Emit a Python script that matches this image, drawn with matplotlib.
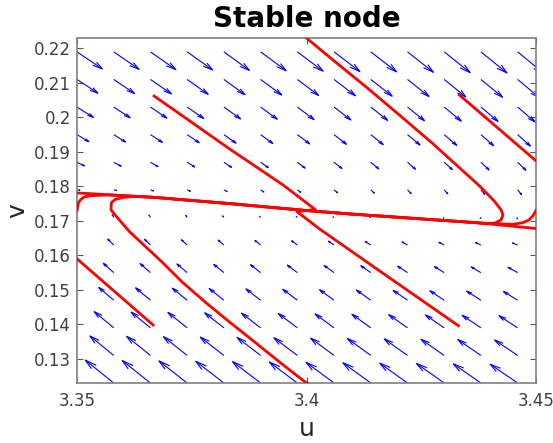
import numpy as np
import matplotlib
matplotlib.use('Agg')
import matplotlib.pyplot as plt
from matplotlib.collections import LineCollection

# ---------------- data ----------------
u_grid = [3.350, 3.358, 3.366, 3.374, 3.382, 3.390, 3.398,
          3.406, 3.414, 3.422, 3.430, 3.438, 3.446]
v_grid = [0.1230, 0.1310, 0.1390, 0.1470, 0.1550, 0.1630, 0.1710,
          0.1790, 0.1870, 0.1950, 0.2030, 0.2110, 0.2190]

# arrow components (data units) : row part + column part
du_row = [-0.00609, -0.00511, -0.00414, -0.00317, -0.00219, -0.00122, -0.00024,
          0.00073, 0.00170, 0.00268, 0.00365, 0.00463, 0.00560]
dv_row = [0.00609, 0.00511, 0.00414, 0.00317, 0.00219, 0.00122, 0.00024,
          -0.00073, -0.00170, -0.00268, -0.00365, -0.00463, -0.00560]
du_col = [-0.00009, -0.00008, -0.00006, -0.00005, -0.00003, -0.00002, 0.0,
          0.00002, 0.00003, 0.00005, 0.00006, 0.00008, 0.00010]
dv_col = [0.00064, 0.00053, 0.00043, 0.00032, 0.00021, 0.00011, 0.0,
          -0.00011, -0.00021, -0.00032, -0.00043, -0.00053, -0.00064]

# trajectories (u, v)
traj_A_u = [3.3668, 3.3833, 3.3949, 3.4019, 3.4000]
traj_A_v = [0.2062, 0.1908, 0.1804, 0.1733, 0.1730]

traj_F_u = [3.4331, 3.4156, 3.4029, 3.3979, 3.4000]
traj_F_v = [0.1396, 0.1558, 0.1676, 0.1727, 0.1730]

traj_B_u = [3.4000, 3.4058, 3.4131, 3.4204, 3.4276, 3.4334, 3.4378, 3.4408,
            3.4424, 3.4428, 3.4424, 3.4411, 3.4391, 3.4378, 3.4204, 3.4095, 3.4000]
traj_B_v = [0.2230, 0.2166, 0.2087, 0.2005, 0.1923, 0.1853, 0.1800, 0.1759,
            0.1732, 0.1717, 0.1703, 0.1694, 0.1691, 0.1694, 0.1710, 0.1720, 0.1730]

traj_D_u = [3.4000, 3.3942, 3.3888, 3.3833, 3.3779, 3.3729, 3.3685, 3.3648,
            3.3615, 3.3592, 3.3574, 3.3575, 3.3583, 3.3600, 3.3626, 3.3670,
            3.3833, 3.4000]
traj_D_v = [0.1230, 0.1290, 0.1348, 0.1406, 0.1465, 0.1523, 0.1581, 0.1627,
            0.1668, 0.1703, 0.1732, 0.1753, 0.1762, 0.1768, 0.1771, 0.1768,
            0.1750, 0.1730]

traj_C_u = [3.4333, 3.4500]
traj_C_v = [0.2065, 0.1874]
traj_C2_u = [3.4500, 3.4422, 3.4378, 3.4204, 3.4095, 3.4000]
traj_C2_v = [0.1678, 0.1688, 0.1694, 0.1710, 0.1720, 0.1730]

traj_E_u = [3.3666, 3.3500]
traj_E_v = [0.1398, 0.1590]
traj_E2_u = [3.3500, 3.3568, 3.3670, 3.3833, 3.4000]
traj_E2_v = [0.1781, 0.1776, 0.1768, 0.1750, 0.1730]

traj_L_u = [3.3500, 3.3503, 3.3507, 3.3515, 3.3528, 3.3568, 3.3670, 3.3833, 3.4000]
traj_L_v = [0.1730, 0.1752, 0.1760, 0.1769, 0.1773, 0.1775, 0.1768, 0.1750, 0.1730]

traj_R_u = [3.4500, 3.4493, 3.4485, 3.4472, 3.4450, 3.4410, 3.4378, 3.4204, 3.4095, 3.4000]
traj_R_v = [0.1730, 0.1714, 0.1703, 0.1695, 0.1690, 0.1692, 0.1694, 0.1710, 0.1720, 0.1730]

trajectories = [(traj_A_u, traj_A_v), (traj_F_u, traj_F_v), (traj_B_u, traj_B_v),
                (traj_D_u, traj_D_v), (traj_C_u, traj_C_v), (traj_C2_u, traj_C2_v),
                (traj_E_u, traj_E_v), (traj_E2_u, traj_E2_v), (traj_L_u, traj_L_v),
                (traj_R_u, traj_R_v)]

x_ticks = [3.35, 3.4, 3.45]
x_tick_labels = ['3.35', '3.4', '3.45']
y_ticks = [0.13, 0.14, 0.15, 0.16, 0.17, 0.18, 0.19, 0.20, 0.21, 0.22]
y_tick_labels = ['0.13', '0.14', '0.15', '0.16', '0.17', '0.18', '0.19', '0.2', '0.21', '0.22']

# ---------------- figure ----------------
plt.rcParams['font.family'] = ['DejaVu Sans']
W, H = 553, 443
fig = plt.figure(figsize=(W / 100, H / 100), dpi=100)
ax = fig.add_axes([77 / W, 1 - 383 / H, (536 - 77) / W, (383 - 38) / H])

X, Y = np.meshgrid(np.array(u_grid), np.array(v_grid))
U = np.array(du_row)[:, None] + np.array(du_col)[None, :]
V = np.array(dv_row)[:, None] + np.array(dv_col)[None, :]

x0, y0 = X.ravel(), Y.ravel()
uu, vv = U.ravel(), V.ravel()
x1, y1 = x0 + uu, y0 + vv
head = 0.30
half = 0.08
bx, by = x1 - head * uu, y1 - head * vv
segs = []
for i in range(len(x0)):
    segs.append([(x0[i], y0[i]), (x1[i], y1[i])])
    segs.append([(bx[i] - half * vv[i], by[i] + half * uu[i]), (x1[i], y1[i]),
                 (bx[i] + half * vv[i], by[i] - half * uu[i])])
lc = LineCollection(segs, colors='#0000ff', linewidths=0.8)
ax.add_collection(lc)

for tu, tv in trajectories:
    ax.plot(tu, tv, color='#ff0000', lw=2.0, zorder=3)

ax.set_xlim(3.35, 3.45)
ax.set_ylim(0.12301, 0.22301)
ax.set_xticks(x_ticks)
ax.set_xticklabels(x_tick_labels)
ax.set_yticks(y_ticks)
ax.set_yticklabels(y_tick_labels)

ax.tick_params(direction='in', length=4, width=0.8, color='0.35',
               labelsize=12, labelcolor='0.25', top=True, right=True)
ax.tick_params(axis='x', pad=6.5)
ax.tick_params(axis='y', pad=4.3)
for s in ax.spines.values():
    s.set_color('0.5')
    s.set_linewidth(1.2)

ax.set_title('Stable node', fontsize=20, fontweight='bold', pad=8)
ax.set_xlabel('u', fontsize=18, color='0.15')
ax.set_ylabel('v', fontsize=18, color='0.15')
ax.xaxis.set_label_coords(0.5, -0.10)
ax.yaxis.set_label_coords(-0.105, 0.5)

fig.savefig('out.png', dpi=100)
